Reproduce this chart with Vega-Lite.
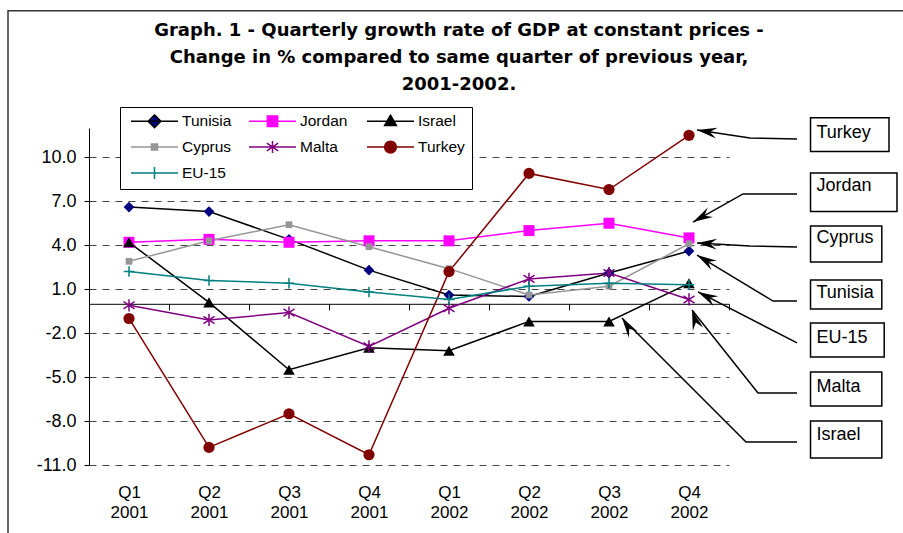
{
  "$schema": "https://vega.github.io/schema/vega-lite/v6.json",
  "width": 640,
  "height": 337,
  "autosize": {"type": "none"},
  "padding": {"left": 89, "top": 128, "right": 174, "bottom": 68},
  "background": "white",
  "config": {"view": {"stroke": null}, "font": "Liberation Sans"},
  "title": {
    "text": ["Graph. 1 - Quarterly growth rate of GDP at constant prices -", "Change in % compared to same quarter of previous year,", "2001-2002."],
    "font": "DejaVu Sans", "fontSize": 18, "fontWeight": "bold", "lineHeight": 27,
    "anchor": "middle", "frame": "group", "dx": 50, "offset": -84, "color": "black"
  },
  "datasets": {
    "gdp": [
      {"q": 1, "series": "Tunisia", "value": 6.6}, {"q": 2, "series": "Tunisia", "value": 6.3}, {"q": 3, "series": "Tunisia", "value": 4.4}, {"q": 4, "series": "Tunisia", "value": 2.3},
      {"q": 5, "series": "Tunisia", "value": 0.6}, {"q": 6, "series": "Tunisia", "value": 0.5}, {"q": 7, "series": "Tunisia", "value": 2.1}, {"q": 8, "series": "Tunisia", "value": 3.6},
      {"q": 1, "series": "Jordan", "value": 4.2}, {"q": 2, "series": "Jordan", "value": 4.4}, {"q": 3, "series": "Jordan", "value": 4.2}, {"q": 4, "series": "Jordan", "value": 4.3},
      {"q": 5, "series": "Jordan", "value": 4.3}, {"q": 6, "series": "Jordan", "value": 5.0}, {"q": 7, "series": "Jordan", "value": 5.5}, {"q": 8, "series": "Jordan", "value": 4.5},
      {"q": 1, "series": "Israel", "value": 4.2}, {"q": 2, "series": "Israel", "value": 0.1}, {"q": 3, "series": "Israel", "value": -4.5}, {"q": 4, "series": "Israel", "value": -3.0},
      {"q": 5, "series": "Israel", "value": -3.2}, {"q": 6, "series": "Israel", "value": -1.2}, {"q": 7, "series": "Israel", "value": -1.2}, {"q": 8, "series": "Israel", "value": 1.4},
      {"q": 1, "series": "Cyprus", "value": 2.9}, {"q": 2, "series": "Cyprus", "value": 4.3}, {"q": 3, "series": "Cyprus", "value": 5.4}, {"q": 4, "series": "Cyprus", "value": 3.9},
      {"q": 5, "series": "Cyprus", "value": 2.4}, {"q": 6, "series": "Cyprus", "value": 0.6}, {"q": 7, "series": "Cyprus", "value": 1.2}, {"q": 8, "series": "Cyprus", "value": 4.1},
      {"q": 1, "series": "Malta", "value": -0.1}, {"q": 2, "series": "Malta", "value": -1.1}, {"q": 3, "series": "Malta", "value": -0.6}, {"q": 4, "series": "Malta", "value": -2.9},
      {"q": 5, "series": "Malta", "value": -0.3}, {"q": 6, "series": "Malta", "value": 1.7}, {"q": 7, "series": "Malta", "value": 2.1}, {"q": 8, "series": "Malta", "value": 0.3},
      {"q": 1, "series": "Turkey", "value": -1.0}, {"q": 2, "series": "Turkey", "value": -9.8}, {"q": 3, "series": "Turkey", "value": -7.5}, {"q": 4, "series": "Turkey", "value": -10.3},
      {"q": 5, "series": "Turkey", "value": 2.2}, {"q": 6, "series": "Turkey", "value": 8.9}, {"q": 7, "series": "Turkey", "value": 7.8}, {"q": 8, "series": "Turkey", "value": 11.5},
      {"q": 1, "series": "EU-15", "value": 2.2}, {"q": 2, "series": "EU-15", "value": 1.6}, {"q": 3, "series": "EU-15", "value": 1.4}, {"q": 4, "series": "EU-15", "value": 0.8},
      {"q": 5, "series": "EU-15", "value": 0.3}, {"q": 6, "series": "EU-15", "value": 1.2}, {"q": 7, "series": "EU-15", "value": 1.4}, {"q": 8, "series": "EU-15", "value": 1.3}
    ],
    "frame": [{"x": -0.5125, "x2": 12, "y": 20.0, "y2": -18}],
    "boxes": [
      {"label": "Turkey", "x": 9.519, "x2": 10.5, "y": 12.7, "y2": 10.4, "ty": 11.32},
      {"label": "Jordan", "x": 9.519, "x2": 10.6, "y": 8.93, "y2": 6.3, "ty": 7.7},
      {"label": "Cyprus", "x": 9.519, "x2": 10.41, "y": 5.31, "y2": 2.85, "ty": 4.15},
      {"label": "Tunisia", "x": 9.519, "x2": 10.41, "y": 1.63, "y2": -0.35, "ty": 0.4},
      {"label": "EU-15", "x": 9.519, "x2": 10.44, "y": -1.31, "y2": -3.63, "ty": -2.67},
      {"label": "Malta", "x": 9.519, "x2": 10.41, "y": -4.65, "y2": -6.97, "ty": -6.02},
      {"label": "Israel", "x": 9.519, "x2": 10.41, "y": -8.0, "y2": -10.52, "ty": -9.29}
    ],
    "arrows": [
      {"label": "Turkey", "i": 1, "x": 9.35, "y": 11.25}, {"label": "Turkey", "i": 2, "x": 8.7625, "y": 11.32}, {"label": "Turkey", "i": 3, "x": 8.1, "y": 11.86},
      {"label": "Jordan", "i": 1, "x": 9.35, "y": 7.5}, {"label": "Jordan", "i": 2, "x": 8.675, "y": 7.5}, {"label": "Jordan", "i": 3, "x": 8.05, "y": 5.58},
      {"label": "Cyprus", "i": 1, "x": 9.35, "y": 3.88}, {"label": "Cyprus", "i": 2, "x": 8.7625, "y": 3.95}, {"label": "Cyprus", "i": 3, "x": 8.1, "y": 4.15},
      {"label": "Tunisia", "i": 1, "x": 9.35, "y": 0.19}, {"label": "Tunisia", "i": 2, "x": 9.05, "y": 0.19}, {"label": "Tunisia", "i": 3, "x": 8.1, "y": 3.33},
      {"label": "EU-15", "i": 1, "x": 9.35, "y": -2.67}, {"label": "EU-15", "i": 2, "x": 8.1125, "y": 0.81},
      {"label": "Malta", "i": 1, "x": 9.35, "y": -6.09}, {"label": "Malta", "i": 2, "x": 8.8625, "y": -6.09}, {"label": "Malta", "i": 3, "x": 8.0375, "y": -0.42},
      {"label": "Israel", "i": 1, "x": 9.35, "y": -9.43}, {"label": "Israel", "i": 2, "x": 8.7125, "y": -9.43}, {"label": "Israel", "i": 3, "x": 7.1625, "y": -0.97}
    ],
    "heads": [
      {"label": "Turkey", "x": 8.1, "y": 11.86, "angle": 278.6},
      {"label": "Jordan", "x": 8.05, "y": 5.58, "angle": 240.8},
      {"label": "Cyprus", "x": 8.1, "y": 4.15, "angle": 273.2},
      {"label": "Tunisia", "x": 8.1, "y": 3.33, "angle": 301.2},
      {"label": "EU-15", "x": 8.1125, "y": 0.81, "angle": 297.3},
      {"label": "Malta", "x": 8.0375, "y": -0.42, "angle": 342.6},
      {"label": "Israel", "x": 7.1625, "y": -0.97, "angle": 325.9}
    ]
  },
  "layer": [
    {
      "data": {"name": "gdp"},
      "mark": {"type": "line", "strokeWidth": 1.5},
      "encoding": {
        "x": {"field": "q", "type": "quantitative", "scale": {"domain": [0.5, 8.5], "nice": false, "zero": false},
          "axis": {"orient": "bottom", "values": [0.5, 1.5, 2.5, 3.5, 4.5, 5.5, 6.5, 7.5, 8.5], "labelExpr": "datum.value < 8 ? ['Q' + (((datum.value - 0.5) % 4) + 1), datum.value < 4 ? '2001' : '2002'] : ''", "labelOffset": 40, "labelFontSize": 17, "labelFont": "Liberation Sans", "labelColor": "black", "labelPadding": 175, "labelLineHeight": 19.5, "labelFlush": false, "labelOverlap": false, "labelBound": false, "ticks": true, "tickSize": 6, "tickColor": "black", "tickWidth": 1, "domain": true, "domainColor": "black", "domainWidth": 1, "grid": false, "title": null, "offset": -161.2}},
        "y": {"field": "value", "type": "quantitative", "scale": {"domain": [-11, 12], "nice": false, "zero": false},
          "axis": {"orient": "left", "values": [-11, -8, -5, -2, 1, 4, 7, 10], "labelExpr": "datum.value < 0 ? '-' + format(-datum.value, '.1f') : format(datum.value, '.1f')", "labelFontSize": 18, "labelFont": "Liberation Sans", "labelColor": "black", "labelPadding": 8, "tickSize": 5, "tickColor": "black", "domain": true, "domainColor": "black", "grid": true, "gridDash": [7, 6], "gridColor": "#444444", "gridWidth": 1, "title": null}},
        "stroke": {"field": "series", "type": "nominal",
          "scale": {"domain": ["Tunisia", "Jordan", "Israel", "Cyprus", "Malta", "Turkey", "EU-15"], "range": ["#000000", "#FF00FF", "#000000", "#969696", "#800080", "#800000", "#008080"]},
          "legend": {"orient": "none", "direction": "horizontal", "legendX": 31, "legendY": -21, "title": null, "columns": 3, "gridAlign": "all", "columnPadding": 13, "rowPadding": 10, "clipHeight": 14, "symbolSize": 2209, "symbolStrokeWidth": 1.5, "symbolOffset": 3, "symbolFillColor": "white", "symbolStrokeColor": "black", "symbolOpacity": 1, "labelOffset": 3, "labelFontSize": 15.5, "labelFont": "Liberation Sans", "labelColor": "black", "labelLimit": 200, "strokeColor": "black", "fillColor": "white", "padding": 7}}
      }
    },
    {
      "data": {"name": "frame"},
      "mark": {"type": "rect", "filled": false, "color": "#333333", "strokeWidth": 1.5},
      "encoding": {
        "x": {"field": "x", "type": "quantitative", "scale": {"domain": [0.5, 8.5], "nice": false, "zero": false}},
        "x2": {"field": "x2"},
        "y": {"field": "y", "type": "quantitative", "scale": {"domain": [-11, 12], "nice": false, "zero": false}},
        "y2": {"field": "y2"}
      }
    },
    {
      "data": {"name": "gdp"},
      "transform": [{"filter": {"field": "series", "equal": "Tunisia"}}],
      "mark": {"type": "point", "shape": "diamond", "filled": true, "opacity": 1, "color": "#000080", "size": 115},
      "encoding": {
        "x": {"field": "q", "type": "quantitative", "scale": {"domain": [0.5, 8.5], "nice": false, "zero": false}},
        "y": {"field": "value", "type": "quantitative", "scale": {"domain": [-11, 12], "nice": false, "zero": false}}
      }
    },
    {
      "data": {"name": "gdp"},
      "transform": [{"filter": {"field": "series", "equal": "Jordan"}}],
      "mark": {"type": "point", "shape": "square", "filled": true, "opacity": 1, "color": "#FF00FF", "size": 121},
      "encoding": {
        "x": {"field": "q", "type": "quantitative", "scale": {"domain": [0.5, 8.5], "nice": false, "zero": false}},
        "y": {"field": "value", "type": "quantitative", "scale": {"domain": [-11, 12], "nice": false, "zero": false}}
      }
    },
    {
      "data": {"name": "gdp"},
      "transform": [{"filter": {"field": "series", "equal": "Israel"}}],
      "mark": {"type": "point", "shape": "triangle-up", "filled": true, "opacity": 1, "color": "#000000", "size": 135},
      "encoding": {
        "x": {"field": "q", "type": "quantitative", "scale": {"domain": [0.5, 8.5], "nice": false, "zero": false}},
        "y": {"field": "value", "type": "quantitative", "scale": {"domain": [-11, 12], "nice": false, "zero": false}}
      }
    },
    {
      "data": {"name": "gdp"},
      "transform": [{"filter": {"field": "series", "equal": "Cyprus"}}],
      "mark": {"type": "point", "shape": "square", "filled": true, "opacity": 1, "color": "#969696", "size": 45},
      "encoding": {
        "x": {"field": "q", "type": "quantitative", "scale": {"domain": [0.5, 8.5], "nice": false, "zero": false}},
        "y": {"field": "value", "type": "quantitative", "scale": {"domain": [-11, 12], "nice": false, "zero": false}}
      }
    },
    {
      "data": {"name": "gdp"},
      "transform": [{"filter": {"field": "series", "equal": "Malta"}}],
      "mark": {"type": "point", "shape": "M0,-1L0,1M-0.9,-0.6L0.9,0.6M-0.9,0.6L0.9,-0.6", "filled": false, "opacity": 1, "color": "#800080", "strokeWidth": 1.5, "size": 150},
      "encoding": {
        "x": {"field": "q", "type": "quantitative", "scale": {"domain": [0.5, 8.5], "nice": false, "zero": false}},
        "y": {"field": "value", "type": "quantitative", "scale": {"domain": [-11, 12], "nice": false, "zero": false}}
      }
    },
    {
      "data": {"name": "gdp"},
      "transform": [{"filter": {"field": "series", "equal": "Turkey"}}],
      "mark": {"type": "point", "shape": "circle", "filled": true, "opacity": 1, "color": "#800000", "size": 125},
      "encoding": {
        "x": {"field": "q", "type": "quantitative", "scale": {"domain": [0.5, 8.5], "nice": false, "zero": false}},
        "y": {"field": "value", "type": "quantitative", "scale": {"domain": [-11, 12], "nice": false, "zero": false}}
      }
    },
    {
      "data": {"name": "gdp"},
      "transform": [{"filter": {"field": "series", "equal": "EU-15"}}],
      "mark": {"type": "point", "shape": "M-1,0L1,0M0,-1L0,1", "filled": false, "opacity": 1, "color": "#008080", "strokeWidth": 1.5, "size": 110},
      "encoding": {
        "x": {"field": "q", "type": "quantitative", "scale": {"domain": [0.5, 8.5], "nice": false, "zero": false}},
        "y": {"field": "value", "type": "quantitative", "scale": {"domain": [-11, 12], "nice": false, "zero": false}}
      }
    },
    {
      "data": {"name": "arrows"},
      "mark": {"type": "line", "color": "black", "strokeWidth": 1.5},
      "encoding": {
        "x": {"field": "x", "type": "quantitative", "scale": {"domain": [0.5, 8.5], "nice": false, "zero": false}},
        "y": {"field": "y", "type": "quantitative", "scale": {"domain": [-11, 12], "nice": false, "zero": false}},
        "detail": {"field": "label", "type": "nominal"},
        "order": {"field": "i", "type": "quantitative"}
      }
    },
    {
      "data": {"name": "heads"},
      "mark": {"type": "point", "shape": "M0,0L0.27,1L0,0.65L-0.27,1Z", "filled": true, "opacity": 1, "color": "black", "size": 1600},
      "encoding": {
        "x": {"field": "x", "type": "quantitative", "scale": {"domain": [0.5, 8.5], "nice": false, "zero": false}},
        "y": {"field": "y", "type": "quantitative", "scale": {"domain": [-11, 12], "nice": false, "zero": false}},
        "angle": {"field": "angle", "type": "quantitative", "scale": null}
      }
    },
    {
      "data": {"name": "boxes"},
      "mark": {"type": "rect", "fill": "white", "stroke": "black", "strokeWidth": 1.5},
      "encoding": {
        "x": {"field": "x", "type": "quantitative", "scale": {"domain": [0.5, 8.5], "nice": false, "zero": false}},
        "x2": {"field": "x2"},
        "y": {"field": "y", "type": "quantitative", "scale": {"domain": [-11, 12], "nice": false, "zero": false}},
        "y2": {"field": "y2"}
      }
    },
    {
      "data": {"name": "boxes"},
      "mark": {"type": "text", "align": "left", "baseline": "alphabetic", "fontSize": 18, "font": "Liberation Sans", "color": "black", "dx": 6},
      "encoding": {
        "x": {"field": "x", "type": "quantitative", "scale": {"domain": [0.5, 8.5], "nice": false, "zero": false}},
        "y": {"field": "ty", "type": "quantitative", "scale": {"domain": [-11, 12], "nice": false, "zero": false}},
        "text": {"field": "label"}
      }
    },
    {
      "data": {"name": "gdp"},
      "transform": [{"filter": "false"}],
      "mark": {"type": "point", "filled": true, "opacity": 1},
      "encoding": {
        "shape": {"field": "series", "type": "nominal",
          "scale": {"domain": ["Tunisia", "Jordan", "Israel", "Cyprus", "Malta", "Turkey", "EU-15"],
            "range": ["M-1,0L1,0M0,-0.27L0.27,0L0,0.27L-0.27,0Z", "M-1,0L1,0M-0.22,-0.22L0.22,-0.22L0.22,0.22L-0.22,0.22Z", "M-1,0L1,0M0,-0.26L0.25,0.18L-0.25,0.18Z", "M-1,0L1,0M-0.13,-0.13L0.13,-0.13L0.13,0.13L-0.13,0.13Z", "M-1,0L1,0M0,-0.26L0,0.26M-0.24,-0.16L0.24,0.16M-0.24,0.16L0.24,-0.16", "M-1,0L1,0M0.25,0A0.25,0.25,0,1,1,-0.25,0A0.25,0.25,0,1,1,0.25,0Z", "M-1,0L1,0M0,-0.26L0,0.26"]},
          "legend": {"orient": "none", "direction": "horizontal", "legendX": 31, "legendY": -21, "title": null, "columns": 3, "gridAlign": "all", "columnPadding": 13, "rowPadding": 10, "clipHeight": 14, "symbolSize": 2209, "symbolStrokeWidth": 1.5, "symbolOffset": 3, "symbolFillColor": "white", "symbolStrokeColor": "black", "symbolOpacity": 1, "labelOffset": 3, "labelFontSize": 15.5, "labelFont": "Liberation Sans", "labelColor": "black", "labelLimit": 200, "strokeColor": "black", "fillColor": "white", "padding": 7}},
        "fill": {"field": "series", "type": "nominal",
          "scale": {"domain": ["Tunisia", "Jordan", "Israel", "Cyprus", "Malta", "Turkey", "EU-15"], "range": ["#000080", "#FF00FF", "#000000", "#969696", "#800080", "#800000", "#008080"]},
          "legend": {"orient": "none", "direction": "horizontal", "legendX": 31, "legendY": -21, "title": null, "columns": 3, "gridAlign": "all", "columnPadding": 13, "rowPadding": 10, "clipHeight": 14, "symbolSize": 2209, "symbolStrokeWidth": 1.5, "symbolOffset": 3, "symbolFillColor": "white", "symbolStrokeColor": "black", "symbolOpacity": 1, "labelOffset": 3, "labelFontSize": 15.5, "labelFont": "Liberation Sans", "labelColor": "black", "labelLimit": 200, "strokeColor": "black", "fillColor": "white", "padding": 7}},
        "stroke": {"field": "series", "type": "nominal",
          "scale": {"domain": ["Tunisia", "Jordan", "Israel", "Cyprus", "Malta", "Turkey", "EU-15"], "range": ["#000000", "#FF00FF", "#000000", "#969696", "#800080", "#800000", "#008080"]},
          "legend": {"orient": "none", "direction": "horizontal", "legendX": 31, "legendY": -21, "title": null, "columns": 3, "gridAlign": "all", "columnPadding": 13, "rowPadding": 10, "clipHeight": 14, "symbolSize": 2209, "symbolStrokeWidth": 1.5, "symbolOffset": 3, "symbolFillColor": "white", "symbolStrokeColor": "black", "symbolOpacity": 1, "labelOffset": 3, "labelFontSize": 15.5, "labelFont": "Liberation Sans", "labelColor": "black", "labelLimit": 200, "strokeColor": "black", "fillColor": "white", "padding": 7}}
      }
    }
  ]
}
